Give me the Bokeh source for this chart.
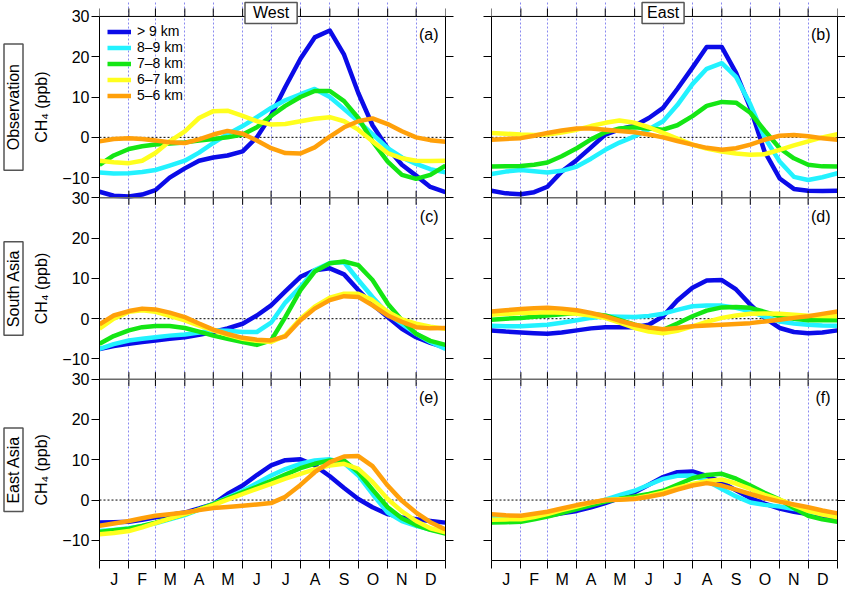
import math
from bokeh.plotting import figure
from bokeh.models import (Range1d, LinearAxis, FixedTicker, Span, Label,
                          Legend, LegendItem, ColumnDataSource)
from bokeh.layouts import row
from bokeh.embed import file_html
from bokeh.resources import INLINE

FONT = "Liberation Sans"

# ---------------- data ----------------
days = [0, 15, 31, 45, 59, 74, 90, 105, 120, 135, 151, 166, 181, 196, 212,
        227, 243, 258, 273, 288, 304, 319, 334, 349, 365]
month_starts = [0, 31, 59, 90, 120, 151, 181, 212, 243, 273, 304, 334, 365]
month_letters = ["J", "F", "M", "A", "M", "J", "J", "A", "S", "O", "N", "D"]
layers = ["> 9 km", "8\u20139 km", "7\u20138 km", "6\u20137 km", "5\u20136 km"]
colors = ["#0b0be8", "#22f2ff", "#14e614", "#ffff1e", "#ffa00a"]
y_ticks = [-10, 0, 10, 20, 30]
y_min, y_max = -15, 30
column_titles = ["West", "East"]
row_titles = ["Observation", "South Asia", "East Asia"]
panel_letters = [["(a)", "(c)", "(e)"], ["(b)", "(d)", "(f)"]]

# series order follows `layers`
west_obs = [
    [-13.5, -14.5, -14.7, -14.2, -13.1, -10.0, -7.7, -5.8, -5.0, -4.5, -3.5, 0.0, 5.5, 12.5, 19.5, 24.8, 26.5, 20.5, 11.0, 3.0, -2.7, -6.8, -9.5, -12.3, -13.6],
    [-8.7, -9.0, -8.9, -8.6, -8.1, -7.0, -5.8, -3.8, -1.4, 0.8, 2.8, 5.0, 7.3, 9.2, 10.7, 12.0, 10.0, 7.0, 4.0, 0.8, -2.7, -5.0, -6.6, -7.9, -8.7],
    [-6.8, -4.5, -2.9, -2.2, -1.8, -1.5, -1.25, -0.8, -0.4, 0.0, 0.7, 2.5, 5.3, 7.8, 10.0, 11.5, 11.5, 9.0, 4.8, -1.0, -6.0, -9.3, -10.3, -9.3, -7.0],
    [-5.8, -6.2, -6.4, -5.8, -3.9, -1.0, 1.5, 4.8, 6.5, 6.6, 5.3, 4.0, 3.2, 3.3, 4.0, 4.6, 5.0, 4.0, 1.9, -1.0, -3.9, -5.2, -5.8, -5.9, -5.8],
    [-1.0, -0.4, -0.2, -0.4, -0.8, -1.2, -1.4, -0.5, 0.7, 1.6, 0.9, -0.8, -2.7, -3.9, -4.0, -2.5, 0.2, 2.5, 4.0, 4.7, 3.3, 1.5, 0.0, -0.7, -1.1],
]
east_obs = [
    [-13.25, -13.9, -14.1, -13.6, -12.25, -8.5, -5.6, -2.5, 0.7, 2.0, 2.9, 4.8, 7.3, 12.0, 17.3, 22.4, 22.4, 16.0, 7.3, -3.5, -10.2, -12.8, -13.25, -13.3, -13.25],
    [-9.1, -8.5, -8.1, -8.4, -8.7, -8.3, -7.25, -5.3, -3.1, -1.3, 0.25, 2.0, 4.0, 8.0, 13.2, 17.0, 18.4, 15.0, 8.2, 0.0, -6.0, -9.8, -10.6, -9.9, -8.9],
    [-7.25, -7.2, -7.1, -6.8, -6.25, -4.7, -2.7, -0.5, 1.25, 2.2, 2.5, 2.2, 1.9, 3.0, 5.25, 7.8, 8.8, 8.6, 6.1, 1.7, -2.7, -5.2, -6.8, -7.2, -7.25],
    [1.1, 0.9, 0.7, 0.6, 0.7, 1.2, 1.9, 2.8, 3.6, 4.2, 3.6, 2.5, 1.1, -0.3, -1.8, -2.8, -3.5, -4.0, -4.3, -4.2, -3.1, -2.0, -1.0, 0.0, 0.8],
    [-0.6, -0.4, -0.2, 0.4, 1.1, 1.7, 2.2, 2.2, 1.9, 1.6, 1.25, 0.7, 0.0, -0.9, -1.8, -2.6, -3.1, -2.7, -1.8, -0.6, 0.4, 0.6, 0.25, -0.2, -0.6],
]
west_sasia = [
    [-7.5, -6.8, -6.25, -5.8, -5.4, -5.0, -4.6, -4.0, -3.3, -2.4, -1.25, 0.8, 3.3, 6.8, 10.4, 12.0, 12.5, 11.0, 7.1, 3.5, 0.4, -2.5, -4.6, -6.0, -7.2],
    [-7.5, -6.3, -5.4, -5.0, -4.6, -4.2, -3.9, -3.4, -2.9, -3.0, -3.3, -3.3, -1.0, 4.0, 7.9, 12.1, 13.8, 14.0, 9.6, 5.4, 1.25, -1.3, -3.75, -5.8, -7.5],
    [-6.25, -4.3, -2.9, -2.1, -1.8, -1.8, -2.3, -3.2, -4.2, -5.0, -5.8, -6.5, -5.4, 0.4, 7.1, 11.7, 13.75, 14.2, 13.3, 9.6, 3.75, -0.4, -3.75, -5.5, -6.5],
    [-2.5, 0.0, 1.7, 2.1, 1.7, 0.7, -0.4, -1.7, -2.9, -4.0, -5.0, -5.5, -5.8, -4.2, 0.0, 3.0, 5.2, 6.2, 6.2, 4.6, 1.7, -0.2, -1.25, -2.0, -2.5],
    [-1.4, 0.8, 1.9, 2.5, 2.3, 1.5, 0.4, -1.2, -2.7, -3.8, -4.75, -5.2, -5.4, -4.4, -0.4, 2.5, 4.6, 5.6, 5.4, 3.3, 0.8, -0.8, -2.1, -2.4, -2.3],
]
east_sasia = [
    [-2.9, -3.2, -3.4, -3.6, -3.75, -3.4, -2.9, -2.4, -2.1, -2.1, -2.1, -1.5, 0.6, 4.5, 7.7, 9.5, 9.6, 7.25, 3.5, 0.2, -2.3, -3.3, -3.6, -3.4, -2.9],
    [-1.75, -1.9, -1.9, -1.7, -1.5, -1.0, -0.4, 0.2, 0.6, 0.5, 0.4, 0.7, 1.25, 2.2, 3.1, 3.3, 3.25, 2.7, 1.8, 0.5, -0.7, -1.2, -1.5, -1.7, -1.75],
    [-0.25, 0.0, 0.2, 0.5, 0.8, 1.1, 1.4, 1.2, 0.8, -0.3, -1.5, -2.3, -2.75, -1.2, 0.6, 2.0, 2.8, 2.9, 2.7, 1.7, 0.6, 0.0, -0.4, -0.4, -0.4],
    [1.0, 1.2, 1.4, 1.5, 1.6, 1.5, 1.25, 0.8, 0.2, -1.0, -2.3, -3.2, -3.6, -3.0, -1.9, -0.8, 0.2, 0.8, 1.25, 1.3, 1.25, 1.0, 0.75, 0.7, 0.6],
    [1.8, 2.1, 2.4, 2.6, 2.7, 2.5, 2.1, 1.4, 0.6, -0.5, -1.5, -2.2, -2.6, -2.3, -1.9, -1.7, -1.5, -1.3, -1.1, -0.7, -0.25, 0.2, 0.6, 1.2, 1.8],
]
west_easia = [
    [-5.6, -5.5, -5.4, -4.9, -4.3, -3.7, -3.1, -2.1, -1.0, 1.5, 3.6, 6.2, 8.6, 9.9, 10.1, 8.6, 5.9, 3.0, 0.25, -1.8, -3.5, -4.3, -4.75, -5.2, -5.6],
    [-7.7, -7.4, -7.0, -6.4, -5.75, -4.8, -3.75, -2.4, -1.0, 0.6, 2.3, 4.2, 6.1, 7.7, 9.0, 9.8, 10.1, 9.2, 6.1, 1.5, -3.1, -5.2, -6.4, -7.3, -8.0],
    [-7.9, -7.5, -7.1, -6.4, -5.6, -4.6, -3.5, -2.3, -1.0, 0.4, 1.9, 3.3, 4.8, 6.3, 7.9, 9.0, 9.8, 9.8, 6.9, 2.6, -1.8, -4.5, -6.2, -7.4, -8.3],
    [-8.5, -8.2, -7.7, -6.8, -5.75, -4.6, -3.5, -2.4, -1.25, 0.1, 1.5, 2.8, 4.0, 5.3, 6.5, 7.6, 8.6, 9.0, 7.75, 4.5, 0.25, -2.8, -5.2, -7.0, -8.0],
    [-6.4, -5.8, -5.2, -4.5, -3.9, -3.5, -3.1, -2.5, -2.0, -1.7, -1.4, -1.1, -0.75, 0.8, 3.75, 6.9, 9.4, 10.8, 10.9, 8.4, 3.6, -0.2, -3.1, -5.5, -7.3],
]
east_easia = [
    [-4.75, -4.3, -4.1, -4.0, -3.9, -3.3, -2.7, -1.8, -0.75, 0.5, 1.9, 3.8, 5.7, 6.9, 7.1, 6.0, 4.4, 2.4, 0.5, -0.9, -2.1, -2.9, -3.5, -4.1, -4.75],
    [-4.3, -4.2, -4.1, -3.8, -3.5, -2.9, -2.1, -1.0, 0.1, 1.2, 2.3, 3.8, 5.25, 6.0, 6.1, 4.8, 2.75, 0.9, -0.6, -1.2, -1.6, -2.2, -2.9, -3.4, -3.9],
    [-5.6, -5.5, -5.4, -4.8, -4.1, -3.2, -2.25, -1.3, -0.4, 0.3, 0.9, 1.5, 2.3, 3.8, 5.4, 6.2, 6.5, 5.3, 3.6, 1.8, 0.1, -2.0, -3.9, -4.8, -5.4],
    [-4.9, -4.8, -4.75, -4.2, -3.5, -2.5, -1.6, -0.7, 0.0, 0.2, 0.4, 1.1, 1.9, 3.0, 4.0, 4.7, 5.1, 4.1, 2.75, 1.3, 0.1, -1.3, -2.7, -3.6, -4.3],
    [-3.5, -3.8, -3.9, -3.4, -2.9, -2.1, -1.25, -0.6, 0.0, 0.1, 0.25, 0.8, 1.5, 2.6, 3.6, 4.2, 3.6, 2.6, 1.5, 0.5, -0.4, -1.1, -1.8, -2.6, -3.3],
]

columns_data = [[west_obs, west_sasia, west_easia],
                [east_obs, east_sasia, east_easia]]

# ---------------- layout constants ----------------
H = 590
BOTTOM = 28                 # month labels below the frame
PANEL_PX = 182              # height of one panel
TOP_PAD = 16                # space above panel (a) inside the frame (for boxed titles)
FRAME_W = 346
SPAN = y_max - y_min
PAD_UNITS = TOP_PAD * SPAN / PANEL_PX
TICK_UNITS = 8 * SPAN / PANEL_PX
RANGE_NAMES = ["p0", "p1", "default"]
LABEL_W = 55


def fmt(v):
    return ("\u2212%d" % -v) if v < 0 else str(v)


def hide_labels(ax):
    ax.major_label_text_color = None
    ax.major_label_text_alpha = 0
    ax.major_label_text_font_size = "1px"
    ax.major_label_standoff = 0


def ranges():
    main = Range1d(y_min, y_max + 2 * SPAN + PAD_UNITS)
    extra = {
        "p0": Range1d(y_min - 2 * SPAN, y_max + PAD_UNITS),
        "p1": Range1d(y_min - SPAN, y_max + SPAN + PAD_UNITS),
    }
    return main, extra


def make_label_column():
    yr, extra = ranges()
    p = figure(width=LABEL_W, height=H, x_range=Range1d(0, 1), y_range=yr,
               output_backend="svg", toolbar_location=None,
               x_axis_location=None, y_axis_location=None,
               min_border_left=0, min_border_right=0,
               min_border_top=0, min_border_bottom=BOTTOM,
               outline_line_color=None)
    p.extra_y_ranges = extra
    p.grid.visible = False
    mid = (y_min + y_max) / 2
    pads = [(20, 1), (8, 1), (8, 1)]
    for k in range(3):
        rn = RANGE_NAMES[k]
        p.add_layout(Label(x=41, x_units="screen", y=mid, y_range_name=rn,
                           text="CH\u2084 (ppb)", angle=math.pi / 2,
                           text_align="center", text_baseline="middle",
                           text_font=FONT, text_font_size="16px",
                           text_color="black"))
        p.add_layout(Label(x=13, x_units="screen", y=mid, y_range_name=rn,
                           text=row_titles[k], angle=math.pi / 2,
                           text_align="center", text_baseline="middle",
                           text_font=FONT, text_font_size="16px",
                           text_color="black", padding=pads[k],
                           background_fill_color="white",
                           border_line_color="#555555",
                           border_line_width=1.5))
    return p


def make_column(ci, panels, with_labels):
    left_b = 99 - LABEL_W if with_labels else 23
    right_b = 23 if with_labels else 8
    width = left_b + FRAME_W + right_b
    yr, extra = ranges()
    p = figure(width=width, height=H, x_range=Range1d(0, 365), y_range=yr,
               output_backend="svg", toolbar_location=None,
               min_border_left=left_b, min_border_right=right_b,
               min_border_top=0, min_border_bottom=BOTTOM,
               background_fill_color="white", border_fill_color="white")
    p.extra_y_ranges = extra
    p.outline_line_color = None

    # y ticks of all three panels on one axis (default range coordinates)
    tick_pos, overrides = [], {}
    for k in range(3):
        off = (2 - k) * SPAN
        for t in y_ticks:
            tick_pos.append(t + off)
            overrides[t + off] = fmt(t)
    bounds = (y_min, y_max + 2 * SPAN)

    ya = p.yaxis[0]
    ya.ticker = FixedTicker(ticks=tick_pos)
    ya.bounds = bounds
    ya.major_tick_out = 8
    ya.major_tick_in = 0
    ya.axis_line_color = "black"
    ya.major_tick_line_color = "black"
    if with_labels:
        ya.major_label_overrides = overrides
        ya.major_label_text_font = FONT
        ya.major_label_text_font_size = "16px"
        ya.major_label_text_color = "black"
        ya.major_label_standoff = 2
    else:
        hide_labels(ya)

    ra = LinearAxis(ticker=FixedTicker(ticks=tick_pos), bounds=bounds,
                    major_tick_out=8, major_tick_in=0,
                    axis_line_color="black", major_tick_line_color="black")
    hide_labels(ra)
    p.add_layout(ra, "right")

    mids = [(month_starts[i] + month_starts[i + 1]) / 2 for i in range(12)]
    xa = p.xaxis[0]
    xa.ticker = FixedTicker(ticks=mids, minor_ticks=month_starts)
    xa.major_label_overrides = {m: l for m, l in zip(mids, month_letters)}
    xa.major_tick_out = 0
    xa.major_tick_in = 0
    xa.minor_tick_out = 8
    xa.minor_tick_in = 0
    xa.minor_tick_line_color = "black"
    xa.axis_line_color = "black"
    xa.major_label_standoff = 2
    xa.major_label_text_font = FONT
    xa.major_label_text_font_size = "16px"
    xa.major_label_text_color = "black"

    p.xgrid.ticker = FixedTicker(ticks=month_starts[1:-1])
    p.xgrid.grid_line_color = "#8a8af0"
    p.xgrid.grid_line_dash = "2 2"
    p.xgrid.grid_line_width = 1
    p.xgrid.bounds = (y_min, y_max + 2 * SPAN)
    p.ygrid.visible = False

    # top edge of panel (a) and its outward ticks
    p.add_layout(Span(location=y_max, dimension="width", y_range_name="p0",
                      line_color="black", line_width=1))
    p.segment(x0=month_starts, x1=month_starts,
              y0=[y_max] * len(month_starts),
              y1=[y_max + TICK_UNITS] * len(month_starts),
              y_range_name="p0", line_color="black", line_width=1)

    legend_items = []
    for k, series in enumerate(panels):
        rn = RANGE_NAMES[k]
        p.add_layout(Span(location=0, dimension="width", y_range_name=rn,
                          line_color="black", line_dash="2 2", line_width=1,
                          level="underlay"))
        src = ColumnDataSource(dict(day=days, **{"s%d" % i: v for i, v in enumerate(series)}))
        for si in range(len(series)):
            r = p.line("day", "s%d" % si, source=src, y_range_name=rn,
                       line_color=colors[si], line_width=4.5, line_join="round")
            if k == 0:
                legend_items.append(LegendItem(label=layers[si], renderers=[r]))
        if k > 0:
            p.add_layout(Span(location=y_max, dimension="width", y_range_name=rn,
                              line_color="#6a6a6a", line_width=1.5))
            p.scatter(month_starts[1:-1], [y_max] * (len(month_starts) - 2),
                      y_range_name=rn, marker="dash", angle=math.pi / 2,
                      size=14, line_color="black", line_width=1)
        p.add_layout(Label(x=365, y=y_max, y_range_name=rn, x_offset=-7,
                           y_offset=-10, text=panel_letters[ci][k],
                           text_align="right", text_baseline="top",
                           text_font=FONT, text_font_size="16px",
                           text_color="black"))

    title_pad = [(8, 2), (5, 2)][ci]
    p.add_layout(Label(x=181, y=y_max, y_range_name="p0", y_offset=3.5,
                       text=column_titles[ci], text_align="center",
                       text_baseline="middle", text_font=FONT,
                       text_font_size="16px", text_color="black",
                       padding=title_pad,
                       background_fill_color="white",
                       border_line_color="#555555", border_line_width=1.5))

    if ci == 0:
        leg = Legend(items=legend_items, location=(8, 457))
        leg.background_fill_alpha = 0
        leg.border_line_color = None
        leg.label_text_font = FONT
        leg.label_text_font_size = "14px"
        leg.label_text_color = "black"
        leg.glyph_width = 24
        leg.glyph_height = 15
        leg.label_height = 15
        leg.spacing = 0
        leg.padding = 0
        leg.margin = 0
        leg.label_standoff = 6
        p.add_layout(leg)
    return p


labels = make_label_column()
left = make_column(0, columns_data[0], True)
right = make_column(1, columns_data[1], False)
layout = row(labels, left, right)

open("out.html", "w").write(file_html(layout, INLINE))
